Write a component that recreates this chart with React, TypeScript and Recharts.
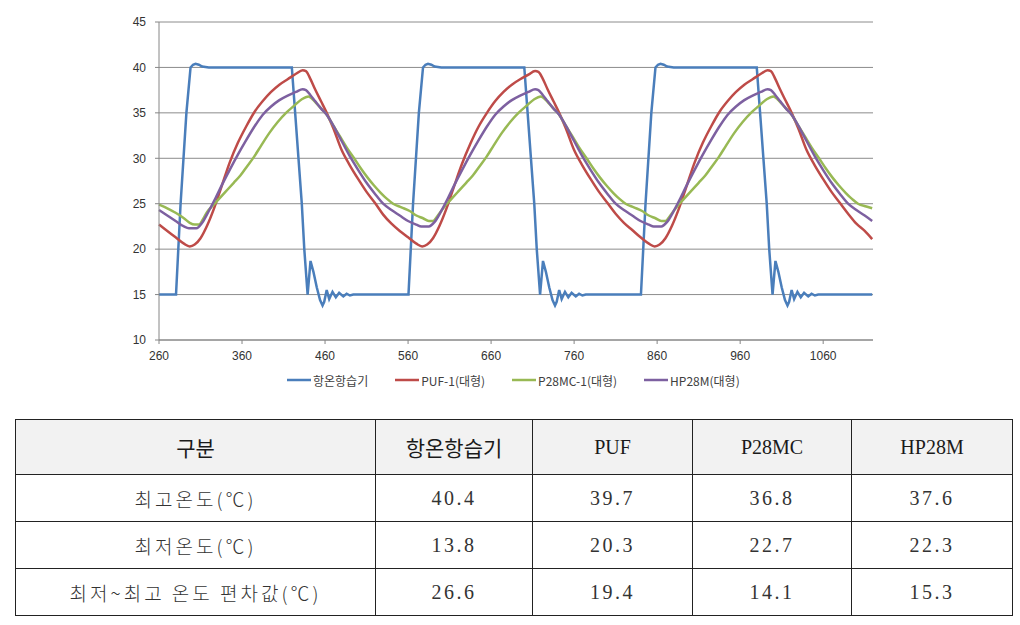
import React from 'react';
import { LineChart, Line, XAxis, YAxis, CartesianGrid, Legend } from 'recharts';

type Pt = [number, number];

// 항온항습기 (chamber set temperature)
const chamber: Pt[] = [
  [260, 15], [280.5, 15], [286, 25], [293, 35], [298, 40], [301, 40.3], [304, 40.4], [308, 40.3], [312, 40.1], [320, 40],
  [420, 40], [424, 35], [428, 30], [432, 25], [435, 20], [439, 15], [442.5, 18.7], [446, 17.5], [450, 15.8], [454, 14.4],
  [457, 13.8], [459, 14.2], [462, 15.5], [465, 14.5], [469, 15.3], [473, 14.7], [477, 15.2], [482, 14.8], [486, 15.1], [490, 14.9], [494, 15],
  [560.5, 15], [566, 25], [573, 35], [578, 40], [581, 40.3], [584, 40.4], [588, 40.3], [592, 40.1], [600, 40],
  [700, 40], [704, 35], [708, 30], [712, 25], [715, 20], [719, 15], [722.5, 18.7], [726, 17.5], [730, 15.8], [734, 14.4],
  [737, 13.8], [739, 14.2], [742, 15.5], [745, 14.5], [749, 15.3], [753, 14.7], [757, 15.2], [762, 14.8], [766, 15.1], [770, 14.9], [774, 15],
  [840.5, 15], [846, 25], [853, 35], [858, 40], [861, 40.3], [864, 40.4], [868, 40.3], [872, 40.1], [880, 40],
  [980, 40], [984, 35], [988, 30], [992, 25], [995, 20], [999, 15], [1002.5, 18.7], [1006, 17.5], [1010, 15.8], [1014, 14.4],
  [1017, 13.8], [1019, 14.2], [1022, 15.5], [1025, 14.5], [1029, 15.3], [1033, 14.7], [1037, 15.2], [1042, 14.8], [1046, 15.1], [1050, 14.9], [1054, 15],
  [1119, 15],
];

const puf: Pt[] = [
  [260, 22.7], [270, 22.0], [280, 21.3], [290, 20.6], [297, 20.3], [303, 20.5], [310, 21.2], [318, 22.6], [326, 24.4], [335, 26.8],
  [345, 29.5], [355, 31.7], [365, 33.5], [375, 35.1], [385, 36.3], [395, 37.3], [405, 38.1], [415, 38.7], [425, 39.3], [433, 39.7],
  [437, 39.6], [442, 38.8], [448, 37.6], [455, 36.3], [462, 35.0], [470, 33.3], [480, 30.9], [490, 29.2], [500, 27.7], [510, 26.3],
  [520, 25.1], [530, 23.8], [540, 22.8],
  [550, 22.0], [560, 21.3], [570, 20.6], [577, 20.3], [583, 20.5], [590, 21.2], [598, 22.6], [606, 24.4], [615, 26.8], [625, 29.4],
  [635, 31.6], [645, 33.5], [655, 35.0], [665, 36.3], [675, 37.3], [685, 38.1], [695, 38.7], [705, 39.2], [713, 39.6], [717, 39.5],
  [722, 38.8], [728, 37.6], [735, 36.3], [742, 35.0], [750, 33.3], [760, 30.9], [770, 29.2], [780, 27.7], [790, 26.3], [800, 25.1],
  [810, 23.9], [820, 22.9],
  [830, 22.1], [840, 21.3], [850, 20.6], [857, 20.3], [863, 20.5], [870, 21.2], [878, 22.6], [886, 24.4], [895, 26.8], [905, 29.5],
  [915, 31.7], [925, 33.5], [935, 35.1], [945, 36.3], [955, 37.3], [965, 38.1], [975, 38.7], [985, 39.3], [993, 39.7], [997, 39.6],
  [1002, 38.8], [1008, 37.6], [1015, 36.3], [1022, 35.0], [1030, 33.3], [1040, 30.9], [1050, 29.2], [1060, 27.7], [1070, 26.3], [1080, 25.1],
  [1090, 23.9], [1100, 22.8], [1110, 22.0], [1119, 21.1],
];

const p28mc: Pt[] = [
  [260, 24.9], [270, 24.5], [280, 24.0], [290, 23.4], [297, 22.9], [303, 22.7], [308, 22.7], [313, 23.3], [318, 24.1], [325, 24.8],
  [332, 25.5], [340, 26.3], [350, 27.3], [358, 28.1], [366, 29.1], [374, 30.1], [383, 31.4], [393, 32.8], [403, 34.0], [413, 35.0],
  [423, 35.8], [432, 36.5], [440, 36.8], [445, 36.5], [450, 36.0], [456, 35.4], [462, 34.8], [470, 33.6], [478, 32.4], [486, 31.2],
  [495, 30.0], [503, 28.9], [511, 27.9], [519, 27.0], [527, 26.2], [535, 25.5], [542, 25.0], [552, 24.6], [562, 24.2], [570, 23.7],
  [578, 23.4], [585, 23.1], [590, 23.1], [595, 23.6], [600, 24.2], [605, 24.8], [612, 25.5], [620, 26.3], [630, 27.3], [638, 28.1],
  [646, 29.1], [654, 30.1], [663, 31.4], [673, 32.8], [683, 34.0], [693, 35.0], [703, 35.8], [712, 36.5], [720, 36.8], [725, 36.5],
  [730, 36.0], [736, 35.4], [742, 34.8], [750, 33.6], [758, 32.4], [766, 31.2], [775, 30.0], [783, 28.9], [791, 27.9], [799, 27.0],
  [807, 26.2], [815, 25.5], [822, 25.0], [832, 24.6], [842, 24.2], [850, 23.7], [858, 23.4], [865, 23.1], [870, 23.1], [875, 23.6],
  [880, 24.2], [885, 24.8], [892, 25.5], [900, 26.3], [910, 27.3], [918, 28.1], [926, 29.1], [934, 30.1], [943, 31.4], [953, 32.8],
  [963, 34.0], [973, 35.0], [983, 35.8], [992, 36.5], [1000, 36.8], [1005, 36.5], [1010, 36.0], [1016, 35.4], [1022, 34.8], [1030, 33.6],
  [1038, 32.4], [1046, 31.2], [1055, 30.0], [1063, 28.9], [1071, 27.9], [1079, 27.0], [1087, 26.2], [1095, 25.5], [1102, 25.0], [1112, 24.7],
  [1119, 24.5],
];

const hp28m: Pt[] = [
  [260, 24.3], [270, 23.7], [280, 23.1], [290, 22.5], [296, 22.3], [305, 22.3], [312, 22.9], [320, 24.2], [328, 25.6], [336, 27.1],
  [345, 28.7], [355, 30.4], [365, 32.0], [375, 33.5], [385, 34.8], [395, 35.7], [405, 36.4], [415, 36.9], [425, 37.3], [433, 37.6],
  [437, 37.5], [442, 37.0], [448, 36.3], [455, 35.5], [462, 34.8], [470, 33.6], [480, 31.9], [490, 30.2], [500, 28.7], [510, 27.3],
  [520, 26.1], [530, 25.0], [540, 24.3],
  [550, 23.7], [560, 23.1], [570, 22.7], [576, 22.5], [585, 22.5], [592, 23.0], [600, 24.2], [608, 25.6], [616, 27.1], [625, 28.7],
  [635, 30.4], [645, 32.0], [655, 33.5], [665, 34.8], [675, 35.7], [685, 36.4], [695, 36.9], [705, 37.3], [713, 37.6], [717, 37.5],
  [722, 37.0], [728, 36.3], [735, 35.5], [742, 34.8], [750, 33.6], [760, 31.9], [770, 30.2], [780, 28.7], [790, 27.3], [800, 26.1],
  [810, 25.0], [820, 24.3],
  [830, 23.7], [840, 23.1], [850, 22.7], [856, 22.5], [865, 22.5], [872, 23.0], [880, 24.2], [888, 25.6], [896, 27.1], [905, 28.7],
  [915, 30.4], [925, 32.0], [935, 33.5], [945, 34.8], [955, 35.7], [965, 36.4], [975, 36.9], [985, 37.3], [993, 37.6], [997, 37.5],
  [1002, 37.0], [1008, 36.3], [1015, 35.5], [1022, 34.8], [1030, 33.6], [1040, 31.9], [1050, 30.2], [1060, 28.7], [1070, 27.3], [1080, 26.1],
  [1090, 25.0], [1100, 24.3], [1110, 23.7], [1119, 23.1],
];

const xTicks = [260, 360, 460, 560, 660, 760, 860, 960, 1060];
const yTicks = [10, 15, 20, 25, 30, 35, 40, 45];

const seriesNames = ['항온항습기', 'PUF-1(대형)', 'P28MC-1(대형)', 'HP28M(대형)'];
const seriesColors = ['#4a7ebb', '#be4b48', '#98b954', '#7d60a0'];
const seriesData = [chamber, puf, p28mc, hp28m];

const tableHead = ['구분', '항온항습기', 'PUF', 'P28MC', 'HP28M'];
const rowLabels = ['최고온도(℃)', '최저온도(℃)', '최저~최고 온도 편차값(℃)'];
const maxTemps = ['40.4', '39.7', '36.8', '37.6'];
const minTemps = ['13.8', '20.3', '22.7', '22.3'];
const ranges = ['26.6', '19.4', '14.1', '15.3'];

const toRows = (pts: Pt[]) => pts.map(([x, v]) => ({ x, v }));

const sansKr = '"Noto Sans CJK KR", "Liberation Sans", sans-serif';
const serif = '"Liberation Serif", "Times New Roman", serif';
const axisGray = '#868686';

const renderLegend = () => (
  <div style={{ display: 'flex', paddingLeft: 287, paddingTop: 2, fontFamily: sansKr, fontSize: 12, color: '#404040' }}>
    {seriesNames.map((name, i) => (
      <div key={name} style={{ display: 'flex', alignItems: 'center', height: 16, marginRight: 27 }}>
        <svg width={24} height={16} style={{ marginRight: 2 }}>
          <line x1={0} y1={8} x2={24} y2={8} stroke={seriesColors[i]} strokeWidth={2.5} />
        </svg>
        <span>{name}</span>
      </div>
    ))}
  </div>
);

const cellBorder = '1px solid #222';

export default function App() {
  const bodyRows = [maxTemps, minTemps, ranges];
  return (
    <div style={{ position: 'absolute', left: 0, top: 0, width: 1020, height: 625, background: '#fff' }}>
      <LineChart width={1020} height={400} margin={{ top: 22, right: 147, left: 119, bottom: 0 }}>
        <CartesianGrid vertical={false} stroke="#8c8c8c" />
        <XAxis
          type="number"
          dataKey="x"
          domain={[260, 1120]}
          ticks={xTicks}
          interval={0}
          height={30}
          tickSize={4}
          tickMargin={7}
          axisLine={{ stroke: axisGray }}
          tickLine={{ stroke: axisGray }}
          tick={{ fill: '#333', fontSize: 12, fontFamily: '"Liberation Sans", sans-serif' }}
        />
        <YAxis
          type="number"
          domain={[10, 45]}
          ticks={yTicks}
          interval={0}
          width={40}
          tickSize={4}
          tickMargin={9}
          axisLine={{ stroke: axisGray }}
          tickLine={{ stroke: axisGray }}
          tick={{ fill: '#333', fontSize: 12, fontFamily: '"Liberation Sans", sans-serif' }}
        />
        {seriesData.map((pts, i) => (
          <Line
            key={seriesNames[i]}
            data={toRows(pts)}
            dataKey="v"
            name={seriesNames[i]}
            type={i === 0 ? 'linear' : 'monotone'}
            stroke={seriesColors[i]}
            strokeWidth={2.5}
            dot={false}
            isAnimationActive={false}
          />
        ))}
        <Legend verticalAlign="bottom" height={30} content={renderLegend} wrapperStyle={{ left: 0, width: 1020 }} />
      </LineChart>

      <table
        style={{
          position: 'absolute',
          left: 15,
          top: 419,
          width: 997,
          borderCollapse: 'collapse',
          tableLayout: 'fixed',
          color: '#1a1a1a',
        }}
      >
        <colgroup>
          <col style={{ width: 360 }} />
          <col style={{ width: 157 }} />
          <col style={{ width: 160 }} />
          <col style={{ width: 159 }} />
          <col style={{ width: 161 }} />
        </colgroup>
        <tbody>
          <tr style={{ height: 55, background: '#f2f2f2' }}>
            {tableHead.map((h, i) => (
              <td
                key={h}
                style={{
                  border: cellBorder,
                  textAlign: 'center',
                  padding: 0,
                  fontFamily: i < 2 ? sansKr : serif,
                  fontSize: i < 2 ? 21 : 20,
                }}
              >
                {h}
              </td>
            ))}
          </tr>
          {rowLabels.map((label, r) => (
            <tr key={label} style={{ height: 47 }}>
              <td
                style={{
                  border: cellBorder,
                  textAlign: 'center',
                  padding: 0,
                  fontFamily: sansKr,
                  fontWeight: 300,
                  fontSize: 19,
                  letterSpacing: 3,
                  color: '#333',
                }}
              >
                {label}
              </td>
              {bodyRows[r].map((v, c) => (
                <td
                  key={c}
                  style={{
                    border: cellBorder,
                    textAlign: 'center',
                    padding: 0,
                    fontFamily: serif,
                    fontSize: 20,
                    letterSpacing: 2.5,
                    color: '#333',
                  }}
                >
                  {v}
                </td>
              ))}
            </tr>
          ))}
        </tbody>
      </table>
    </div>
  );
}
